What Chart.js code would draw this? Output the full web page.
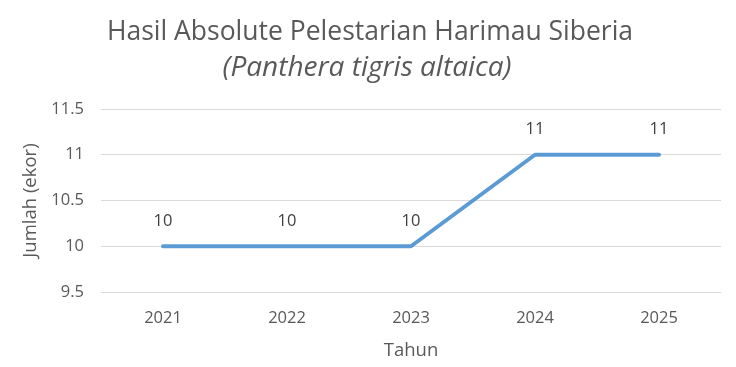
<!DOCTYPE html>
<html>
<head>
<meta charset="utf-8">
<script src="https://cdn.jsdelivr.net/npm/chart.js@4"></script>
<style>
  html, body { margin: 0; padding: 0; background: #fff; }
  #wrap { width: 736px; height: 367px; }
</style>
</head>
<body>
<div id="wrap"><canvas id="chart"></canvas></div>
<script>
// Chart data
const years = ['2021', '2022', '2023', '2024', '2025'];
const jumlah = [10, 10, 10, 11, 11];
const yTicks = [9.5, 10, 10.5, 11, 11.5];

const FONT = '"Open Sans", sans-serif';
const TITLE = 'Hasil Absolute Pelestarian Harimau Siberia';
const SUBTITLE = '(Panthera tigris altaica)';

// draws the value above each point
const valueLabels = {
    id: 'valueLabels',
    afterDatasetsDraw(chart) {
        const ctx = chart.ctx;
        const meta = chart.getDatasetMeta(0);
        ctx.save();
        ctx.font = '16.5px ' + FONT;
        ctx.fillStyle = '#404040';
        ctx.textAlign = 'center';
        ctx.textBaseline = 'middle';
        meta.data.forEach((pt, i) => {
            ctx.fillText(String(jumlah[i]), pt.x, pt.y - 25);
        });
        ctx.restore();
    }
};

// centre the titles on the whole canvas rather than the padded area
const centreTitles = {
    id: 'centreTitles',
    afterLayout(chart) {
        chart.boxes.forEach(b => {
            if (!b.options || b.position !== 'top') return;
            if (b.options.text === TITLE) { b.left = 0; b.right = 740; }
            if (b.options.text === SUBTITLE) { b.left = 0; b.right = 734; }
        });
    }
};

new Chart(document.getElementById('chart'), {
    type: 'line',
    data: {
        labels: years,
        datasets: [{
            data: jumlah,
            borderColor: '#5B9BD5',
            borderWidth: 4,
            borderCapStyle: 'round',
            borderJoinStyle: 'round',
            pointRadius: 0,
            tension: 0
        }]
    },
    options: {
        responsive: true,
        maintainAspectRatio: false,
        animation: false,
        layout: { padding: { left: 0, right: 15, top: 0, bottom: 0 } },
        plugins: {
            legend: { display: false },
            tooltip: { enabled: false },
            title: {
                display: true,
                text: TITLE,
                color: '#595959',
                font: { family: FONT, size: 26.5, weight: 'normal' },
                padding: { top: 17, bottom: 2 }
            },
            subtitle: {
                display: true,
                text: SUBTITLE,
                color: '#595959',
                font: { family: FONT, size: 28, style: 'italic', weight: 'normal' },
                padding: { top: 0, bottom: 24.6 }
            }
        },
        scales: {
            x: {
                offset: true,
                grid: { display: false, drawTicks: false },
                border: { display: false },
                ticks: { color: '#595959', font: { family: FONT, size: 16.5 }, padding: 16 },
                title: {
                    display: true,
                    text: 'Tahun',
                    color: '#595959',
                    font: { family: FONT, size: 18.5 },
                    padding: { top: 0, bottom: 5 }
                },
                afterFit(scale) { scale.height = 75; }
            },
            y: {
                min: 9.5,
                max: 11.5,
                afterBuildTicks(scale) { scale.ticks = yTicks.map(v => ({ value: v })); },
                grid: { color: '#d9d9d9', lineWidth: 1, drawTicks: false },
                border: { display: false },
                ticks: {
                    color: '#595959',
                    font: { family: FONT, size: 16.5 },
                    padding: 17,
                    callback: v => String(v)
                },
                title: {
                    display: true,
                    text: 'Jumlah (ekor)',
                    color: '#595959',
                    font: { family: FONT, size: 18.5 },
                    padding: { top: 20, bottom: 20 }
                },
                afterFit(scale) { scale.width = 101; }
            }
        }
    },
    plugins: [valueLabels, centreTitles]
});
</script>
</body>
</html>
